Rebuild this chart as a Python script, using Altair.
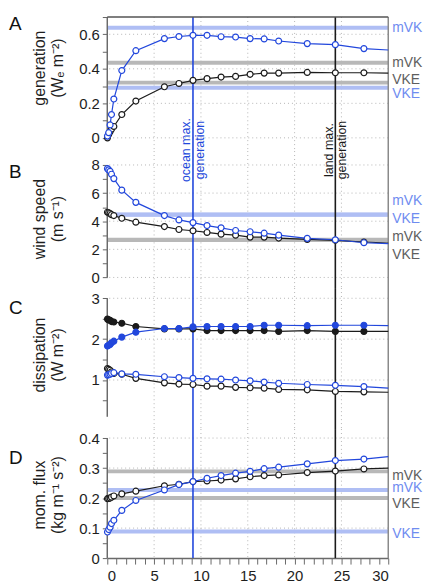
import altair as alt
import pandas as pd

# ---------------- data ----------------
x_points = [0.02, 0.15, 0.3, 0.45, 0.7, 1.55, 3.05, 6.1, 7.65, 9.15, 10.65,
            12.15, 13.7, 15.25, 16.75, 18.3, 21.35, 24.35, 27.4]
x_end = 30

gen_blue = [0.01, 0.03, 0.075, 0.135, 0.225, 0.39, 0.505, 0.575, 0.587, 0.594, 0.594,
            0.586, 0.584, 0.575, 0.573, 0.561, 0.546, 0.54, 0.517]
gen_blue_end = 0.509
gen_black = [0.0, 0.02, 0.035, 0.05, 0.066, 0.135, 0.213, 0.296, 0.315, 0.333, 0.343,
             0.352, 0.356, 0.368, 0.375, 0.375, 0.379, 0.377, 0.377]
gen_black_end = 0.375

wind_blue = [7.74, 7.65, 7.55, 7.34, 7.03, 6.21, 5.34, 4.4, 4.09, 3.9, 3.69,
             3.53, 3.34, 3.25, 3.15, 3.01, 2.78, 2.68, 2.47]
wind_blue_end = 2.4
wind_black = [4.64, 4.6, 4.55, 4.47, 4.4, 4.21, 3.93, 3.62, 3.41, 3.32, 3.2,
              3.08, 3.01, 2.87, 2.87, 2.8, 2.71, 2.64, 2.52]
wind_black_end = 2.45

diss_black_filled = [2.49, 2.47, 2.46, 2.43, 2.42, 2.39, 2.31, 2.25, 2.25, 2.25, 2.21,
                     2.21, 2.21, 2.21, 2.21, 2.19, 2.21, 2.19, 2.19]
diss_black_filled_end = 2.19
diss_blue_filled = [1.83, 1.85, 1.87, 1.91, 1.95, 2.05, 2.17, 2.26, 2.26, 2.3, 2.31,
                    2.31, 2.31, 2.31, 2.34, 2.34, 2.33, 2.34, 2.34]
diss_blue_filled_end = 2.33
diss_black_open = [1.28, 1.26, 1.24, 1.2, 1.16, 1.14, 1.04, 0.93, 0.9, 0.89, 0.85,
                   0.85, 0.82, 0.81, 0.8, 0.77, 0.76, 0.72, 0.71]
diss_black_open_end = 0.7
diss_blue_open = [1.12, 1.13, 1.14, 1.16, 1.18, 1.15, 1.14, 1.08, 1.06, 1.04, 1.03,
                  1.02, 1.0, 0.98, 0.95, 0.92, 0.89, 0.87, 0.84]
diss_blue_open_end = 0.8

mom_black = [0.198, 0.199, 0.2, 0.203, 0.207, 0.214, 0.223, 0.241, 0.246, 0.255, 0.257,
             0.26, 0.264, 0.271, 0.275, 0.277, 0.285, 0.29, 0.297]
mom_black_end = 0.3
mom_blue = [0.087, 0.095, 0.103, 0.115, 0.126, 0.159, 0.192, 0.227, 0.245, 0.255, 0.266,
            0.275, 0.283, 0.289, 0.298, 0.303, 0.314, 0.325, 0.33]
mom_blue_end = 0.338

# reference levels (mVKE / VKE) per panel
ref_labels = ["mVKE", "mVKE", "VKE", "VKE"]
ref_colors = ["blue", "gray", "gray", "blue"]
gen_refs = [0.638, 0.435, 0.32, 0.29]
wind_refs = [4.48, 2.68, 2.67, 4.46]
mom_refs = [0.227, 0.289, 0.2, 0.089]

ocean_max_x = 9.15
land_max_x = 24.35
ocean_text = ["ocean max.", "generation"]
land_text = ["land max.", "generation"]

x_grid = [5, 10, 15, 20, 25]
x_ticks = list(range(31))

# ---------------- style ----------------
BLUE = "#2247dc"
BLACK = "#1b1b1b"
BAND = {"blue": "#afbef4", "gray": "#b8b8b8"}
LABEL_COL = {"blue": "#6f8cf0", "gray": "#5e5e5e"}
FONT = "Liberation Sans"
W = 283
XS = alt.Scale(domain=[0, 30], nice=False, zero=False)


def series_df(vals, end):
    return pd.DataFrame({"x": x_points + [x_end], "y": vals + [end]})


def build_panel(p):
    ys = alt.Scale(domain=p["dom"], nice=False, zero=False)
    H = p["h"]
    layers = []

    step = p["minor"]
    lo, hi = p["axis_rng"]
    n = int(round((hi - p["tick_lo"]) / step))
    tvals = [round(p["tick_lo"] + i * step, 4) for i in range(n + 1)]
    m = p["major"]
    fmt = p["fmt"]
    YA = alt.Axis(
        values=tvals,
        labelExpr=(f"abs(datum.value/{m} - round(datum.value/{m})) < 0.001 ? "
                   f"format(datum.value, '{fmt}') : ''"),
        domain=False, grid=False, labelOverlap=False,
        tickSize=5, tickColor="#666", tickWidth=1,
        labelFont=FONT, labelFontSize=15, labelColor="#1e1e1e", labelPadding=3,
        title=p["title"], titleFont=FONT, titleFontSize=16, titleFontWeight="normal",
        titleColor="#1e1e1e", titleAngle=270, titleX=-60, titleY=p["title_y"],
        titleAlign="center", titleBaseline="bottom", titleLineHeight=18,
    )
    if p.get("xaxis"):
        XA = alt.Axis(
            values=x_ticks,
            labelExpr="datum.value % 5 == 0 ? format(datum.value, 'd') : ''",
            grid=False, domain=True, domainColor="#6a6a6a", domainWidth=1.5,
            labelOverlap=False,
            tickSize=6, tickColor="#6a6a6a", tickWidth=1,
            labelFont=FONT, labelFontSize=15, labelColor="#1e1e1e", labelPadding=5,
            title=None,
        )
    else:
        XA = None

    def X(f):
        return alt.X(f, scale=XS, axis=XA)

    def Y(f):
        return alt.Y(f, scale=ys, axis=YA)

    # vertical grid
    layers.append(
        alt.Chart(pd.DataFrame({"x": x_grid})).mark_rule(
            color="#b5b5b5", strokeDash=[1, 3], strokeWidth=1
        ).encode(x=X("x:Q"))
    )
    # horizontal grid
    layers.append(
        alt.Chart(pd.DataFrame({"y": p["grid"]})).mark_rule(
            color="#b5b5b5", strokeDash=[1, 3], strokeWidth=1
        ).encode(y=Y("y:Q"))
    )

    # reference bands
    for val, col in zip(p["refs"], p["ref_cols"]):
        layers.append(
            alt.Chart(pd.DataFrame({"y": [val]})).mark_rule(
                color=BAND[col], strokeWidth=4
            ).encode(y=Y("y:Q"))
        )

    # vertical markers
    layers.append(
        alt.Chart(pd.DataFrame({"x": [ocean_max_x]})).mark_rule(
            color=BLUE, strokeWidth=1.6
        ).encode(x=X("x:Q"))
    )
    layers.append(
        alt.Chart(pd.DataFrame({"x": [land_max_x]})).mark_rule(
            color=BLACK, strokeWidth=1.6
        ).encode(x=X("x:Q"))
    )

    # left axis line
    layers.append(
        alt.Chart(pd.DataFrame({"lo": [lo], "hi": [hi]})).mark_rule(
            color="#6a6a6a", strokeWidth=1.5
        ).encode(x=alt.value(0), y=Y("lo:Q"), y2="hi:Q")
    )
    # right frame
    layers.append(
        alt.Chart(pd.DataFrame({"a": [0]})).mark_rule(color="#8a8a8a", strokeWidth=1.5)
        .encode(x=alt.value(W), y=alt.value(0), y2=alt.value(H))
    )
    if p.get("top_border"):
        layers.append(
            alt.Chart(pd.DataFrame({"a": [0]})).mark_rule(color="#555", strokeWidth=1.5)
            .encode(x=alt.value(0), x2=alt.value(W), y=alt.value(0))
        )

    # series lines
    for vals, end, col, filled in p["series"]:
        layers.append(
            alt.Chart(series_df(vals, end)).mark_line(color=col, strokeWidth=1.2).encode(
                x=X("x:Q"), y=Y("y:Q")
            )
        )
    # series markers
    for vals, end, col, filled in p["series"]:
        dfp = pd.DataFrame({"x": x_points, "y": vals})
        layers.append(
            alt.Chart(dfp).mark_point(
                shape="circle", size=36, filled=True, opacity=1,
                fill=(col if filled else "white"), stroke=col, strokeWidth=1.2,
            ).encode(x=X("x:Q"), y=Y("y:Q"))
        )

    # right labels
    for val, lab, col, dy in zip(p["refs"], p["ref_labels"], p["ref_cols"], p["label_dy"]):
        layers.append(
            alt.Chart(pd.DataFrame({"y": [val], "t": [lab]})).mark_text(
                align="left", baseline="middle", font=FONT, fontSize=14,
                color=LABEL_COL[col], dy=dy, limit=37, ellipsis="\u200b",
            ).encode(x=alt.value(W + 4), y=Y("y:Q"), text="t:N")
        )

    # panel letter
    layers.append(
        alt.Chart(pd.DataFrame({"t": [p["letter"]]})).mark_text(
            align="left", baseline="middle", font=FONT, fontSize=19, color="#111"
        ).encode(x=alt.value(-99), y=alt.value(p["letter_y"]), text="t:N")
    )

    # annotations for the max-generation lines (one text mark per line, rotated)
    if p.get("annot"):
        for xv, lines, col, off in [(ocean_max_x, ocean_text, BLUE, 7.5),
                                    (land_max_x, land_text, BLACK, 6.5)]:
            for txt, dy in zip(lines, [-off, off]):
                layers.append(
                    alt.Chart(pd.DataFrame({"x": [xv], "t": [txt]})).mark_text(
                        angle=270, align="center", baseline="middle", dy=dy,
                        font=FONT, fontSize=12.5, color=col,
                    ).encode(x=X("x:Q"), y=alt.value(134), text="t:N")
                )

    return alt.layer(*layers).properties(width=W, height=H)


panels = [
    dict(letter="A", h=135, dom=[-0.0765, 0.7], minor=0.1, major=0.2, tick_lo=0.0,
         axis_rng=(0.0, 0.7), fmt=".1~f", grid=[0, 0.2, 0.4, 0.6],
         title=["generation", "(Wₑ m⁻²)"], title_y=51, letter_y=7, top_border=True,
         refs=gen_refs, ref_cols=ref_colors, ref_labels=ref_labels, label_dy=[0, 0, -3, 6],
         series=[(gen_black, gen_black_end, BLACK, False), (gen_blue, gen_blue_end, BLUE, False)],
         annot=True),
    dict(letter="B", h=138, dom=[-0.755, 8.99], minor=1, major=2, tick_lo=0,
         axis_rng=(0, 8), fmt="d", grid=[0, 2, 4, 6, 8],
         title=["wind speed", "(m s⁻¹)"], title_y=68, letter_y=21,
         refs=wind_refs, ref_cols=ref_colors, ref_labels=ref_labels, label_dy=[-14, -3, 15, 4],
         series=[(wind_black, wind_black_end, BLACK, False), (wind_blue, wind_blue_end, BLUE, False)]),
    dict(letter="C", h=142, dom=[-0.2, 3.25], minor=0.5, major=1, tick_lo=0.5,
         axis_rng=(0.1, 3), fmt="d", grid=[1, 2, 3],
         title=["dissipation", "(W m⁻²)"], title_y=67, letter_y=20,
         refs=[], ref_cols=[], ref_labels=[], label_dy=[],
         series=[(diss_black_open, diss_black_open_end, BLACK, False),
                 (diss_blue_open, diss_blue_open_end, BLUE, False),
                 (diss_black_filled, diss_black_filled_end, BLACK, True),
                 (diss_blue_filled, diss_blue_filled_end, BLUE, True)]),
    dict(letter="D", h=130, dom=[0, 0.43], minor=0.05, major=0.1, tick_lo=0.0,
         axis_rng=(0.0, 0.4), fmt=".1~f", grid=[0.1, 0.2, 0.3, 0.4],
         title=["mom. flux", "(kg m⁻¹ s⁻²)"], title_y=66, letter_y=29, xaxis=True,
         refs=mom_refs, ref_cols=["blue", "gray", "gray", "blue"],
         ref_labels=["mVKE", "mVKE", "VKE", "VKE"], label_dy=[-2, 5, 6, 3],
         series=[(mom_black, mom_black_end, BLACK, False), (mom_blue, mom_blue_end, BLUE, False)]),
]

chart = alt.vconcat(*[build_panel(p) for p in panels], spacing=0, bounds="flush").resolve_scale(
    y="independent"
).properties(
    padding={"left": 1, "top": 0, "right": 0, "bottom": 0}
).configure_view(stroke=None)

chart.save("out.html", embed_options={"renderer": "svg", "actions": False})
